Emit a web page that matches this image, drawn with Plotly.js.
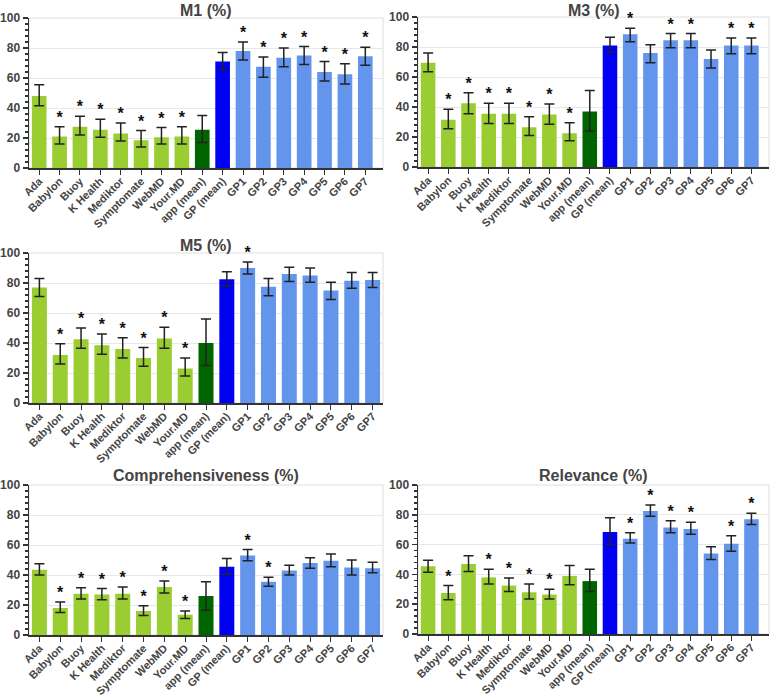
<!DOCTYPE html>
<html>
<head>
<meta charset="utf-8">
<script src="https://cdn.plot.ly/plotly-3.0.1.min.js"></script>
<style>html,body{margin:0;padding:0;background:#fff;}#chart{width:776px;height:696px;}</style>
</head>
<body>
<div id="chart"></div>
<script>
const categories = ['Ada','Babylon','Buoy','K Health','Mediktor','Symptomate','WebMD','Your.MD','app (mean)','GP (mean)','GP1','GP2','GP3','GP4','GP5','GP6','GP7'];
const groups = ['app','app','app','app','app','app','app','app','appmean','gpmean','gp','gp','gp','gp','gp','gp','gp'];

const titles = ['M1 (%)','M3 (%)','M5 (%)','Comprehensiveness (%)','Relevance (%)'];

const m1Values = [48, 21, 27.5, 25.5, 23, 18.5, 20.5, 21, 25.5, 71, 78, 67.5, 73.5, 75, 64, 62.5, 74.5];
const m1Upper  = [55.5, 27.5, 34.5, 32.5, 30, 25, 27, 27.5, 35, 77, 84, 74, 80, 81, 71, 69.5, 80.5];
const m1Lower  = [41.5, 16, 22, 20.5, 18, 14, 16, 16, 17, 65.5, 72, 60.5, 67.5, 69, 58, 56, 68.5];
const m1Stars  = [0,1,1,1,1,1,1,1,0,0,1,1,1,1,1,1,1];

const m3Values = [69.5, 31.5, 42.5, 35.5, 35.5, 26.5, 35, 22.5, 37, 81, 88.5, 76, 84.5, 84.5, 72, 81, 81];
const m3Upper  = [76, 38.5, 49.5, 42.5, 42.5, 33.5, 42, 29.5, 51, 86.5, 92.5, 81.5, 89, 89, 78, 86, 86];
const m3Lower  = [63.5, 25.5, 35.5, 29, 29, 21, 28.5, 17.5, 24, 76.5, 83.5, 69.5, 79.5, 79.5, 66, 75.5, 75.5];
const m3Stars  = [0,1,1,1,1,1,1,1,0,0,1,0,1,1,0,1,1];

const m5Values = [77, 32, 42.5, 38.5, 36, 30, 43, 23, 40, 82.5, 90, 77.5, 86, 85, 75, 81.5, 82];
const m5Upper  = [83, 39.5, 50, 46, 43.5, 37, 50.5, 30, 56, 87.5, 94, 83, 90.5, 90, 80.5, 87, 87];
const m5Lower  = [71, 26, 36.5, 32.5, 30, 24.5, 36.5, 18, 25, 78, 86, 71.5, 81, 80.5, 69, 76.5, 77];
const m5Stars  = [0,1,1,1,1,1,1,1,0,0,1,0,0,0,0,0,0];

const compValues = [43.5, 18, 27.5, 27, 27.5, 16, 32, 13.5, 26, 45.5, 53, 35.5, 43, 48, 49.5, 45, 44.5];
const compUpper  = [47.5, 22, 31.5, 31, 32, 19.5, 36, 16, 35.5, 51, 57, 38.5, 46.5, 51.5, 54, 50, 48.5];
const compLower  = [40, 15, 24, 23.5, 24, 13, 28, 11, 16.5, 40.5, 49.5, 32.5, 40, 44.5, 45.5, 40, 41.5];
const compStars  = [0,1,1,1,1,1,1,1,0,0,1,1,0,0,0,0,0];

const relValues = [45.5, 27.5, 47, 38, 32.5, 28, 26.5, 39, 35.5, 68.5, 64, 82.5, 71.5, 70.5, 54, 60.5, 77];
const relUpper  = [49.5, 32.5, 52.5, 43.5, 37.5, 33.5, 30, 46, 43.5, 78, 68, 86.5, 76, 75, 58.5, 66, 81];
const relLower  = [41.5, 23, 42, 33.5, 28.5, 23.5, 23.5, 33, 28.5, 60, 61, 79, 68, 67, 50, 55.5, 73.5];
const relStars  = [0,1,0,1,1,1,1,0,0,0,1,1,1,1,0,1,1];

const groupColors = {app:'#9acd32', appmean:'#006400', gpmean:'#0000f5', gp:'#6495ed'};

const panels = [
  {v:m1Values, u:m1Upper, l:m1Lower, s:m1Stars},
  {v:m3Values, u:m3Upper, l:m3Lower, s:m3Stars},
  {v:m5Values, u:m5Upper, l:m5Lower, s:m5Stars},
  {v:compValues, u:compUpper, l:compLower, s:compStars},
  {v:relValues, u:relUpper, l:relLower, s:relStars}
];

const W = 776, H = 696;
// panel pixel boxes [left, right, top, bottom, titleCenterY]
const boxes = [[29,383,18,168,10],[418,769,17,167,10],[29,383,253,403,245],[29,383,485,635,475],[418,769,485,634,475]];

const FONT = 'Liberation Sans, Arial, Helvetica, sans-serif';
const data = [];
const layout = {
  width: W, height: H,
  margin: {l:0, r:0, t:0, b:0},
  paper_bgcolor: '#fff', plot_bgcolor: '#fff',
  showlegend: false,
  bargap: 0.28,
  font: {family: FONT, color: '#444'},
  annotations: [], shapes: []
};

panels.forEach((p, i) => {
  const n = i === 0 ? '' : String(i + 1);
  const xa = 'x' + n, ya = 'y' + n;
  data.push({
    type: 'bar', x: categories, y: p.v, xaxis: xa, yaxis: ya,
    marker: {color: groups.map(g => groupColors[g]), line: {width: 0}},
    error_y: {type: 'data', symmetric: false,
      array: p.u.map((u, k) => u - p.v[k]),
      arrayminus: p.v.map((v, k) => v - p.l[k]),
      color: '#222', thickness: 1.5, width: 5},
    hoverinfo: 'skip'
  });
  const sx = [], sy = [];
  p.s.forEach((f, k) => { if (f) { sx.push(categories[k]); sy.push(p.u[k]); } });
  data.push({
    type: 'scatter', mode: 'text', x: sx, y: sy, text: sx.map(() => '*'),
    textposition: 'top center', xaxis: xa, yaxis: ya, cliponaxis: false,
    textfont: {family: FONT, size: 16, color: '#111', weight: 'bold'},
    hoverinfo: 'skip'
  });
  const b = boxes[i];
  const xd = [b[0] / W, b[1] / W];
  const yd = [1 - b[3] / H, 1 - b[2] / H];
  layout['xaxis' + n] = {
    domain: xd, anchor: ya, type: 'category',
    showline: true, linecolor: '#333', linewidth: 1.5,
    ticks: 'outside', ticklen: 5, tickcolor: '#333', tickwidth: 1,
    tickangle: -45, showgrid: false, zeroline: false, fixedrange: true,
    ticklabelstandoff: -4,
    tickfont: {family: FONT, size: 11, color: '#444', weight: 'bold'}
  };
  layout['yaxis' + n] = {
    domain: yd, anchor: xa, range: [0, 100], dtick: 20,
    showline: true, linecolor: '#333', linewidth: 1.5,
    ticks: 'outside', ticklen: 5, tickcolor: '#333', tickwidth: 1.5,
    showgrid: true, gridcolor: '#e8e8e8', gridwidth: 1, zeroline: false, fixedrange: true,
    minor: {dtick: 4, ticks: 'outside', ticklen: 3, tickcolor: '#333', showgrid: false},
    tickfont: {family: FONT, size: 12, color: '#444', weight: 'bold'}
  };
  layout.shapes.push({type: 'rect', xref: xa + ' domain', yref: ya + ' domain',
    x0: 0, x1: 1, y0: 0, y1: 1, line: {color: '#dedede', width: 1}, layer: 'below'});
  layout.annotations.push({
    text: titles[i], xref: 'paper', yref: 'paper',
    x: (xd[0] + xd[1]) / 2, y: 1 - b[4] / H, xanchor: 'center', yanchor: 'middle',
    showarrow: false, borderpad: 0,
    font: {family: FONT, size: 16, color: '#444', weight: 'bold'}
  });
});

Plotly.newPlot('chart', data, layout, {staticPlot: true});
</script>
</body>
</html>
